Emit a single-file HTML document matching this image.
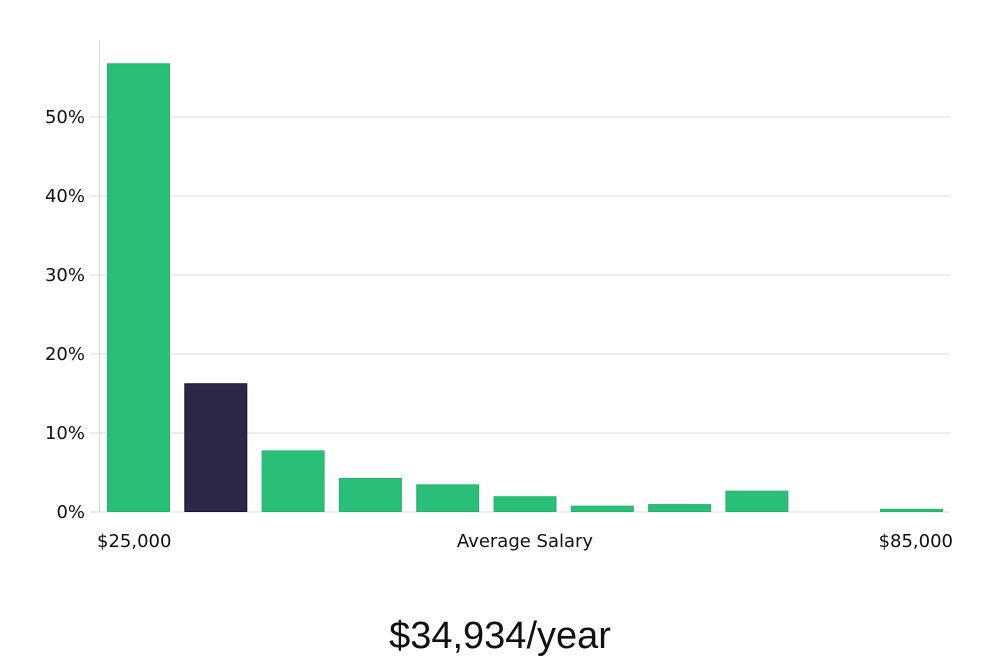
<!DOCTYPE html>
<html><head><meta charset="utf-8"><style>
body{margin:0;background:#fff;width:1000px;height:660px;overflow:hidden}
svg text{font-family:"DejaVu Sans","Liberation Sans",sans-serif;fill:#111}
</style></head><body>
<svg id="chart" width="1000" height="660" xmlns="http://www.w3.org/2000/svg">
<g id="grid"></g>
<g id="bars"></g>
<g id="axis"></g>
<text x="97" y="547" font-size="18">$25,000</text>
<text x="525" y="547" font-size="18" text-anchor="middle">Average Salary</text>
<text x="953" y="547" font-size="18" text-anchor="end">$85,000</text>
<text x="500" y="648" font-size="38" text-anchor="middle" style="font-family:'Liberation Sans',sans-serif;font-weight:300">$34,934/year</text>
</svg>
<script>
const values=[56.8,16.3,7.8,4.3,3.5,2.0,0.8,1.0,2.7,0.1,0.4];
const highlight=[false,true,false,false,false,false,false,false,false,false,false];
const ticks=[0,10,20,30,40,50];
const tickLabels=["0%","10%","20%","30%","40%","50%"];
const NS="http://www.w3.org/2000/svg";
const y=v=>512-v*7.9;
const x=i=>107+i*77.3;
const bw=63;
const grid=document.getElementById('grid'),bars=document.getElementById('bars'),axis=document.getElementById('axis');
function mk(t,a,p){const e=document.createElementNS(NS,t);for(const k in a)e.setAttribute(k,a[k]);p.appendChild(e);return e;}
ticks.forEach((t,i)=>{
 const l=mk('line',{x1:90,x2:950,y1:y(t),y2:y(t),stroke:'#dcdcdc','stroke-width':1},grid);
 
 
 const tx=mk('text',{x:85,y:y(t)+6,'font-size':18,'text-anchor':'end'},axis);
 tx.textContent=tickLabels[i];
 
 
});
const al=mk('line',{x1:99.5,x2:99.5,y1:40,y2:512,stroke:'#d8d8d8','stroke-width':1},axis);


values.forEach((v,i)=>{
 const h=Math.max(1,v*7.9);
 const r=mk('rect',{x:x(i)+0.5,y:512-h+0.5,width:bw-1,height:h-1,fill:highlight[i]?'#2a2747':'#2abf78',stroke:highlight[i]?'#17153a':'#25b26f','stroke-width':1},bars);
 
 
});
</script>
</body></html>
